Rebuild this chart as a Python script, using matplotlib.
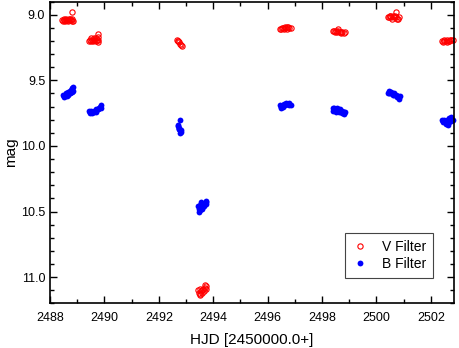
import matplotlib
matplotlib.use("Agg")
import matplotlib.pyplot as plt
from matplotlib.ticker import MultipleLocator, FormatStrFormatter

plt.rcParams["font.family"] = ["Liberation Sans", "DejaVu Sans"]

# ---- V filter (open red circles) ----
v_hjd = [
    2488.45, 2488.48, 2488.52, 2488.55, 2488.58, 2488.62, 2488.65, 2488.68, 2488.72, 2488.75, 2488.78, 2488.82, 2488.85, 2488.81,
    2488.50, 2488.60, 2488.70, 2488.80,
    2489.45, 2489.48, 2489.52, 2489.55, 2489.58, 2489.62, 2489.65, 2489.68, 2489.72, 2489.76, 2489.76, 2489.76, 2489.77,
    2489.50, 2489.60, 2489.70,
    2492.66, 2492.69, 2492.72, 2492.75, 2492.78, 2492.82, 2492.86,
    2493.45, 2493.48, 2493.50, 2493.52, 2493.55, 2493.58, 2493.62, 2493.65, 2493.68, 2493.72, 2493.75,
    2493.50, 2493.60, 2493.70,
    2496.45, 2496.50, 2496.55, 2496.60, 2496.65, 2496.70, 2496.75, 2496.80, 2496.85,
    2496.52, 2496.62, 2496.72,
    2498.40, 2498.45, 2498.50, 2498.55, 2498.60, 2498.65, 2498.70, 2498.75, 2498.80, 2498.85,
    2498.48, 2498.58, 2498.68,
    2500.42, 2500.46, 2500.50, 2500.55, 2500.60, 2500.65, 2500.70, 2500.72, 2500.75, 2500.80, 2500.84,
    2500.48, 2500.58, 2500.68,
    2502.42, 2502.46, 2502.50, 2502.55, 2502.60, 2502.65, 2502.70, 2502.75, 2502.80,
    2502.48, 2502.58, 2502.68,
]
v_mag = [
    9.04, 9.05, 9.04, 9.05, 9.04, 9.04, 9.05, 9.04, 9.04, 9.03, 9.04, 9.03, 9.05, 8.98,
    9.03, 9.03, 9.03, 9.05,
    9.20, 9.19, 9.20, 9.19, 9.20, 9.19, 9.19, 9.18, 9.19, 9.15, 9.17, 9.21, 9.19,
    9.18, 9.18, 9.20,
    9.19, 9.20, 9.20, 9.21, 9.22, 9.23, 9.24,
    11.10, 11.12, 11.14, 11.09, 11.11, 11.10, 11.09, 11.11, 11.08, 11.07, 11.09,
    11.13, 11.12, 11.06,
    9.11, 9.11, 9.10, 9.11, 9.10, 9.09, 9.09, 9.10, 9.10,
    9.10, 9.09, 9.11,
    9.12, 9.12, 9.12, 9.13, 9.12, 9.13, 9.13, 9.13, 9.14, 9.13,
    9.13, 9.11, 9.14,
    9.02, 9.02, 9.01, 9.02, 9.01, 9.02, 9.02, 8.98, 9.03, 9.03, 9.02,
    9.01, 9.03, 9.01,
    9.20, 9.21, 9.20, 9.20, 9.19, 9.20, 9.19, 9.19, 9.19,
    9.19, 9.21, 9.20,
]

# ---- B filter (filled blue circles) ----
b_hjd = [
    2488.48, 2488.52, 2488.55, 2488.58, 2488.62, 2488.65, 2488.68, 2488.72, 2488.75, 2488.78, 2488.82, 2488.85,
    2488.50, 2488.56, 2488.62, 2488.68, 2488.74, 2488.80, 2488.86,
    2489.45, 2489.48, 2489.52, 2489.55, 2489.60, 2489.65, 2489.70, 2489.75, 2489.80, 2489.85, 2489.88,
    2489.47, 2489.55, 2489.62, 2489.70, 2489.78, 2489.86,
    2492.70, 2492.72, 2492.74, 2492.76, 2492.78, 2492.80, 2492.82, 2492.77,
    2492.73, 2492.79,
    2493.45, 2493.48, 2493.50, 2493.52, 2493.55, 2493.58, 2493.62, 2493.65, 2493.68, 2493.72, 2493.75,
    2493.47, 2493.53, 2493.60, 2493.66, 2493.74, 2493.56,
    2496.45, 2496.50, 2496.55, 2496.60, 2496.65, 2496.70, 2496.75, 2496.80, 2496.85,
    2496.48, 2496.58, 2496.68, 2496.78,
    2498.40, 2498.45, 2498.50, 2498.55, 2498.60, 2498.65, 2498.70, 2498.75, 2498.80, 2498.85,
    2498.42, 2498.52, 2498.62, 2498.72, 2498.82,
    2500.42, 2500.46, 2500.50, 2500.55, 2500.60, 2500.65, 2500.70, 2500.75, 2500.80, 2500.85,
    2500.45, 2500.55, 2500.65, 2500.75, 2500.84,
    2502.42, 2502.46, 2502.50, 2502.55, 2502.60, 2502.65, 2502.70, 2502.75, 2502.80,
    2502.45, 2502.55, 2502.65, 2502.75, 2502.62,
]
b_mag = [
    9.61, 9.62, 9.61, 9.60, 9.61, 9.60, 9.59, 9.60, 9.58, 9.57, 9.56, 9.58,
    9.63, 9.62, 9.62, 9.61, 9.60, 9.59, 9.55,
    9.73, 9.74, 9.73, 9.74, 9.73, 9.73, 9.72, 9.72, 9.71, 9.70, 9.69,
    9.75, 9.75, 9.74, 9.74, 9.72, 9.71,
    9.84, 9.85, 9.86, 9.87, 9.88, 9.88, 9.89, 9.80,
    9.87, 9.90,
    10.46, 10.48, 10.47, 10.45, 10.46, 10.47, 10.45, 10.44, 10.44, 10.43, 10.44,
    10.50, 10.49, 10.48, 10.46, 10.42, 10.43,
    9.69, 9.70, 9.69, 9.68, 9.69, 9.68, 9.68, 9.69, 9.69,
    9.71, 9.70, 9.67, 9.67,
    9.71, 9.71, 9.72, 9.71, 9.72, 9.72, 9.73, 9.73, 9.74, 9.74,
    9.73, 9.74, 9.74, 9.75, 9.76,
    9.60, 9.60, 9.60, 9.60, 9.61, 9.61, 9.61, 9.62, 9.62, 9.62,
    9.58, 9.59, 9.60, 9.63, 9.64,
    9.80, 9.81, 9.80, 9.81, 9.80, 9.79, 9.80, 9.81, 9.80,
    9.82, 9.83, 9.82, 9.78, 9.84,
]

fig = plt.figure(figsize=(4.6, 3.48), dpi=100)
ax = fig.add_axes([50 / 460, (348 - 303.3) / 348, 404 / 460, 301.6 / 348])

ax.plot(v_hjd, v_mag, linestyle="none", marker="o", markersize=3.8,
        markerfacecolor="none", markeredgecolor="red", markeredgewidth=0.8,
        label="V Filter", clip_on=False)
ax.plot(b_hjd, b_mag, linestyle="none", marker="o", markersize=4.2,
        color="blue", markeredgewidth=0, label="B Filter", clip_on=False)

ax.set_xlim(2488, 2502.85)
ax.set_ylim(11.2, 8.9)
ax.xaxis.set_major_locator(MultipleLocator(2))
ax.xaxis.set_minor_locator(MultipleLocator(1))
ax.yaxis.set_major_locator(MultipleLocator(0.5))
ax.yaxis.set_minor_locator(MultipleLocator(0.1))
ax.yaxis.set_major_formatter(FormatStrFormatter("%.1f"))
ax.tick_params(which="both", direction="in", top=True, right=True,
               width=1.0, labelsize=9)
ax.tick_params(axis="x", which="major", pad=6)
ax.tick_params(which="major", length=5)
ax.tick_params(which="minor", length=3)
for s in ax.spines.values():
    s.set_linewidth(1.2)

ax.set_xlabel("HJD [2450000.0+]", fontsize=11, labelpad=7)
ax.set_ylabel("mag", fontsize=11)
ax.yaxis.set_label_coords(-0.08, 0.5)

leg = ax.legend(loc="lower right", bbox_to_anchor=(0.949, 0.084), borderaxespad=0,
                fontsize=10, fancybox=False, framealpha=1, edgecolor="#444444",
                handlelength=1.2, handletextpad=1.0, borderpad=0.5, labelspacing=0.2)
leg.get_frame().set_linewidth(0.8)

fig.savefig("out.png", dpi=100)
